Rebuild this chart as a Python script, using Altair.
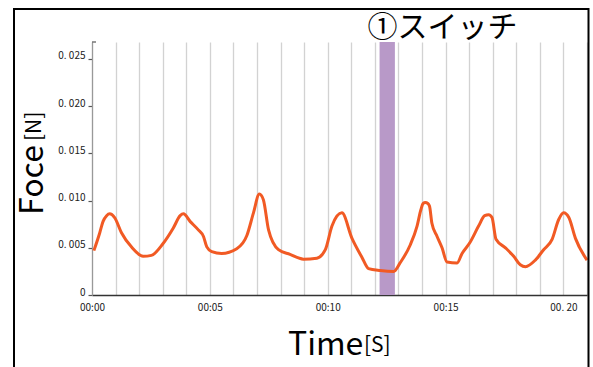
import altair as alt
import pandas as pd

# Force trace (seconds, newtons)
time_s = [0.08, 0.33, 0.47, 0.62, 0.75, 0.96, 1.25, 1.67, 2.17, 2.52, 3.0, 3.45,
          3.74, 3.88, 4.16, 4.51, 4.73, 4.87, 5.08, 5.5, 6.14, 6.57, 6.85, 7.1,
          7.27, 7.49, 7.91, 8.4, 8.97, 9.54, 9.9, 10.18, 10.6, 11.03, 11.45, 11.73,
          12.23, 12.8, 13.07, 13.5, 13.79, 13.95, 14.05, 14.14, 14.25, 14.32,
          14.42, 14.64, 14.85, 15.06, 15.49, 15.7, 16.02, 16.4, 16.66, 16.83,
          16.97, 17.14, 17.54, 17.89, 18.17, 18.39, 18.81, 19.16, 19.52, 19.8,
          20.01, 20.23, 20.51, 21.0]
force_n = [0.0047, 0.0066, 0.0078, 0.0084, 0.0086, 0.0082, 0.0066, 0.0051, 0.0041,
           0.0042, 0.0054, 0.0071, 0.0084, 0.0086, 0.0078, 0.0069, 0.0062, 0.0051,
           0.0046, 0.0044, 0.0049, 0.0063, 0.0087, 0.0107, 0.0101, 0.0069, 0.0048,
           0.0043, 0.0038, 0.0039, 0.0048, 0.0073, 0.0087, 0.0060, 0.0040, 0.0028,
           0.0026, 0.0025, 0.0034, 0.0053, 0.0073, 0.0090, 0.0097, 0.0098, 0.0097,
           0.0094, 0.0076, 0.0062, 0.0050, 0.0035, 0.0034, 0.0044, 0.0055, 0.0073,
           0.0084, 0.0085, 0.0082, 0.0059, 0.0050, 0.0041, 0.0032, 0.0030, 0.0037,
           0.0048, 0.0059, 0.0080, 0.0087, 0.0082, 0.0060, 0.0037]

# Switch event window
switch_start = [12.2]
switch_end = [12.85]
switch_label = ["①スイッチ"]

# Axis ticks and labels
x_ticks = [0, 5, 10, 15, 20]
x_tick_labels = ["00:00", "00:05", "00:10", "00:15", "00. 20"]
x_grid = list(range(0, 22))
y_ticks = [0, 0.005, 0.010, 0.015, 0.020, 0.025]
y_tick_labels = ["0", "0. 005", "0. 010", "0. 015", "0. 020", "0. 025"]

X_MAX = 21
Y_MAX = 0.0268
W, H = 495, 253
FONT = "Noto Sans CJK JP"


def label_expr(values, labels):
    expr = "''"
    for v, l in reversed(list(zip(values, labels))):
        expr = f"datum.value == {v} ? '{l}' : {expr}"
    return expr


trace = pd.DataFrame({"t": time_s, "f": force_n})
band = pd.DataFrame({"start": switch_start, "end": switch_end, "label": switch_label})
one = pd.DataFrame({"k": [0]})

x_scale = alt.Scale(domain=[0, X_MAX], nice=False, zero=False)
y_scale = alt.Scale(domain=[0, Y_MAX], nice=False)

x_axis = alt.Axis(
    values=x_grid, labelExpr=label_expr(x_ticks, x_tick_labels), title=None,
    grid=True, gridColor="#d2d2d2", gridWidth=1.3, ticks=False, tickSize=0,
    domainColor="#333333", domainWidth=1.5, labelFont=FONT, labelFontSize=10,
    labelColor="#222222", labelPadding=7, labelFlush=False, labelOverlap=False,
)
y_axis = alt.Axis(
    values=y_ticks, labelExpr=label_expr(y_ticks, y_tick_labels), title=None,
    grid=False, tickSize=4, tickColor="#555555", tickWidth=1.2,
    domainColor="#999999", domainWidth=1.2, labelFont=FONT, labelFontSize=10,
    labelColor="#222222", labelPadding=3, labelOffset=-3,
)

switch_band = alt.Chart(band).mark_rect(color="#b899c8").encode(
    x=alt.X("start:Q", scale=x_scale, axis=x_axis),
    x2="end:Q",
    y=alt.value(0),
    y2=alt.value(H),
)

line = alt.Chart(trace).mark_line(
    color="#f15a24", strokeWidth=3, interpolate="monotone"
).encode(
    x=alt.X("t:Q", scale=x_scale, axis=x_axis),
    y=alt.Y("f:Q", scale=y_scale, axis=y_axis),
)

switch_text = alt.Chart(band).mark_text(
    font=FONT, fontSize=30, align="left", baseline="alphabetic", dx=-12, color="#000000"
).encode(
    x=alt.X("start:Q", scale=x_scale, axis=x_axis),
    y=alt.value(-5),
    text="label:N",
)

# axis titles: large word plus smaller unit bracket
time_word = alt.Chart(one).mark_text(
    font=FONT, fontSize=32, align="left", baseline="alphabetic", color="#000000"
).encode(x=alt.value(196), y=alt.value(313), text=alt.value("Time"))
time_unit = alt.Chart(one).mark_text(
    font=FONT, fontSize=21, align="left", baseline="alphabetic", color="#000000"
).encode(x=alt.value(272), y=alt.value(310), text=alt.value("[S]"))

force_word = alt.Chart(one).mark_text(
    font=FONT, fontSize=32, align="left", baseline="alphabetic", angle=270, color="#000000"
).encode(x=alt.value(-49), y=alt.value(173), text=alt.value("Foce"))
force_unit = alt.Chart(one).mark_text(
    font=FONT, fontSize=21, align="left", baseline="alphabetic", angle=270, color="#000000"
).encode(x=alt.value(-51), y=alt.value(99), text=alt.value("[N]"))

# cap at the top of the force axis
axis_cap = alt.Chart(one).mark_rule(color="#555555", strokeWidth=1.2).encode(
    x=alt.value(0), x2=alt.value(4), y=alt.value(0)
)

# outer frame
frame = alt.Chart(one).mark_rect(
    fill=None, fillOpacity=0, stroke="#000000", strokeWidth=2
).encode(x=alt.value(-78), x2=alt.value(496.5), y=alt.value(-33), y2=alt.value(340))

chart = alt.layer(
    switch_band, line, switch_text, time_word, time_unit, force_word, force_unit,
    axis_cap, frame,
).properties(
    width=W, height=H,
    autosize=alt.AutoSizeParams(type="none"),
    padding={"left": 92, "top": 42, "right": 6, "bottom": 72},
    background="#ffffff",
).configure_view(stroke=None)

chart.save("out.html", embed_options={"renderer": "svg", "actions": False})
